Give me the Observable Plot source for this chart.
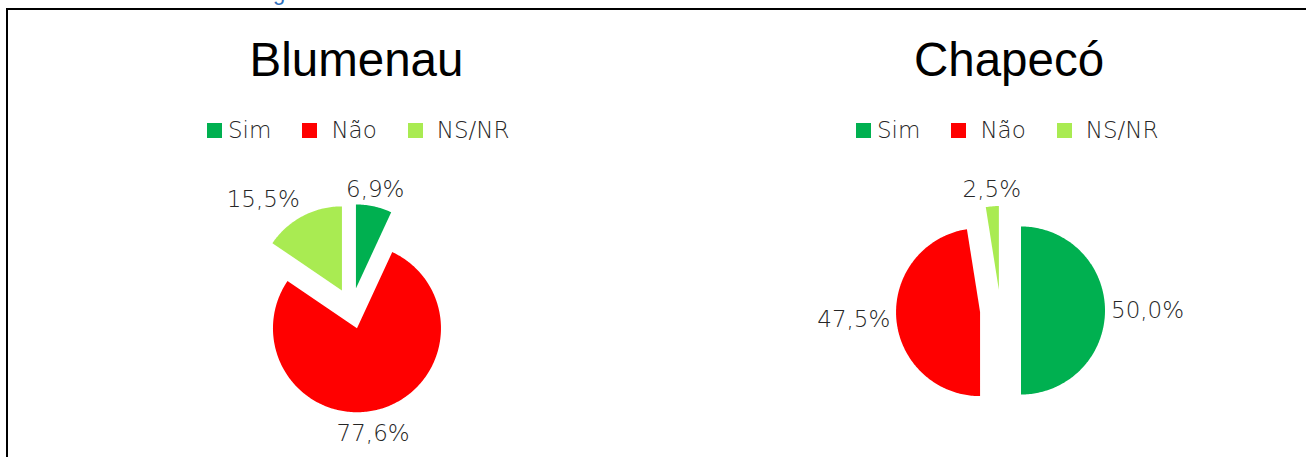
<!DOCTYPE html>
<html><head><meta charset="utf-8">
<script src="https://cdn.jsdelivr.net/npm/d3@7"></script>
<script src="https://cdn.jsdelivr.net/npm/@observablehq/plot@0.6"></script>
<style>
html,body{margin:0;padding:0;background:#fff;}
#root{position:relative;width:1306px;height:457px;overflow:hidden;background:#fff;}
.title{position:absolute;font-family:"Liberation Sans",Arial,sans-serif;font-size:47.5px;line-height:47.5px;color:#000;white-space:nowrap;transform:translateX(-50%);}
.legend{position:absolute;display:flex;align-items:center;height:23px;font-family:"DejaVu Sans",sans-serif;font-weight:200;font-size:23px;line-height:23px;color:#262626;white-space:nowrap;}
.sw{width:15px;height:15px;flex:none;}
.pie{position:absolute;}
.hline{position:absolute;left:6px;top:8px;width:1300px;height:1.5px;background:#000;}
.vline{position:absolute;left:6px;top:8px;width:2px;height:449px;background:#000;}
.cut{position:absolute;left:273px;top:-17.6px;font-family:"Liberation Sans",Arial,sans-serif;font-size:22px;line-height:22px;color:#2F6EBA;}
</style></head><body><div id="root"></div>
<script>
// ---- data ----
const cities = ["Blumenau", "Chapecó"];
const categories = ["Sim", "Não", "NS/NR"];
const blumenauValues = [6.9, 77.6, 15.5];
const chapecoValues = [50.0, 47.5, 2.5];
const sliceColors = ["#00B050", "#FF0000", "#A9EB52"];

// ---- layout (pixels) ----
const layout = [
  {titleX: 356.5, legendX: 207, cx: 350.5, cy: 308},
  {titleX: 1009, legendX: 856, cx: 999.5, cy: 309.5}
];
const R = 84, EXPLODE = 20.5, GAP = 6, W = 440, H = 340;
const labelFont = "23px 'DejaVu Sans'";

const root = document.getElementById("root");
root.insertAdjacentHTML("beforeend", `<div class="cut">g</div><div class="hline"></div><div class="vline"></div>`);

const canvas = document.createElement("canvas");
const ctx = canvas.getContext("2d");
ctx.font = "200 " + labelFont;

const fmt = v => v.toFixed(1).replace(".", ",") + "%";
const clamp01 = t => Math.max(0, Math.min(1, t));

[blumenauValues, chapecoValues].forEach((values, ci) => {
  const L = layout[ci];
  // title
  const t = document.createElement("div");
  t.className = "title";
  t.textContent = cities[ci];
  t.style.left = L.titleX + "px";
  t.style.top = (76 - 40.2) + "px";
  root.appendChild(t);
  // legend
  const lg = document.createElement("div");
  lg.className = "legend";
  lg.style.left = L.legendX + "px";
  lg.style.top = "119.4px";
  categories.forEach((c, i) => {
    const sw = document.createElement("span");
    sw.className = "sw";
    sw.style.background = sliceColors[i];
    if (i > 0) sw.style.marginLeft = "31px";
    const tx = document.createElement("span");
    tx.textContent = c;
    tx.style.marginLeft = (i === 0 ? 6 : 14) + "px";
    lg.appendChild(sw); lg.appendChild(tx);
  });
  root.appendChild(lg);

  // pie geometry from values
  const arcs = d3.pie().sort(null).value(d => d)(values);
  const pts = [], labels = [];
  const o = EXPLODE / R;
  arcs.forEach((a, i) => {
    const m = (a.startAngle + a.endAngle) / 2;
    const ux = Math.sin(m), uy = -Math.cos(m);
    const ox = o * ux, oy = o * uy;
    pts.push({cat: categories[i], x: ox, y: oy});
    const n = Math.max(2, Math.ceil((a.endAngle - a.startAngle) / (Math.PI / 180)));
    for (let k = 0; k <= n; k++) {
      const ang = a.startAngle + (a.endAngle - a.startAngle) * k / n;
      pts.push({cat: categories[i], x: ox + Math.sin(ang), y: oy - Math.cos(ang)});
    }
    const text = fmt(values[i]);
    const w = ctx.measureText(text).width, h = 22;
    const D = (EXPLODE + R + GAP + (uy > 0.5 ? 8 : 0)) / R;
    const sx = Math.sign(ux) * clamp01((Math.abs(ux) - 0.3) / 0.15);
    const sy = Math.sign(uy) * clamp01((Math.abs(uy) - 0.25) / 0.2);
    labels.push({text, x: D * ux + sx * w / 2 / R - (uy > 0.5 ? 10 / R : 0), y: D * uy + sy * h / 2 / R});
  });

  const plot = Plot.plot({
    width: W, height: H,
    margin: 0,
    x: {domain: [-W / 2 / R, W / 2 / R], range: [0, W], axis: null},
    y: {domain: [-H / 2 / R, H / 2 / R], range: [0, H], axis: null},
    color: {domain: categories, range: sliceColors},
    style: {background: "transparent", overflow: "visible"},
    marks: [
      Plot.line(pts, {x: "x", y: "y", z: "cat", fill: "cat", stroke: "none", curve: "linear"}),
      Plot.text(labels, {x: "x", y: "y", text: "text", fill: "#262626", fontSize: 23,
        fontFamily: "DejaVu Sans", fontWeight: 200, textAnchor: "middle", lineAnchor: "middle"})
    ]
  });
  plot.classList.add("pie");
  plot.style.left = (L.cx - W / 2) + "px";
  plot.style.top = (L.cy - H / 2) + "px";
  root.appendChild(plot);
});
</script>
</body></html>
